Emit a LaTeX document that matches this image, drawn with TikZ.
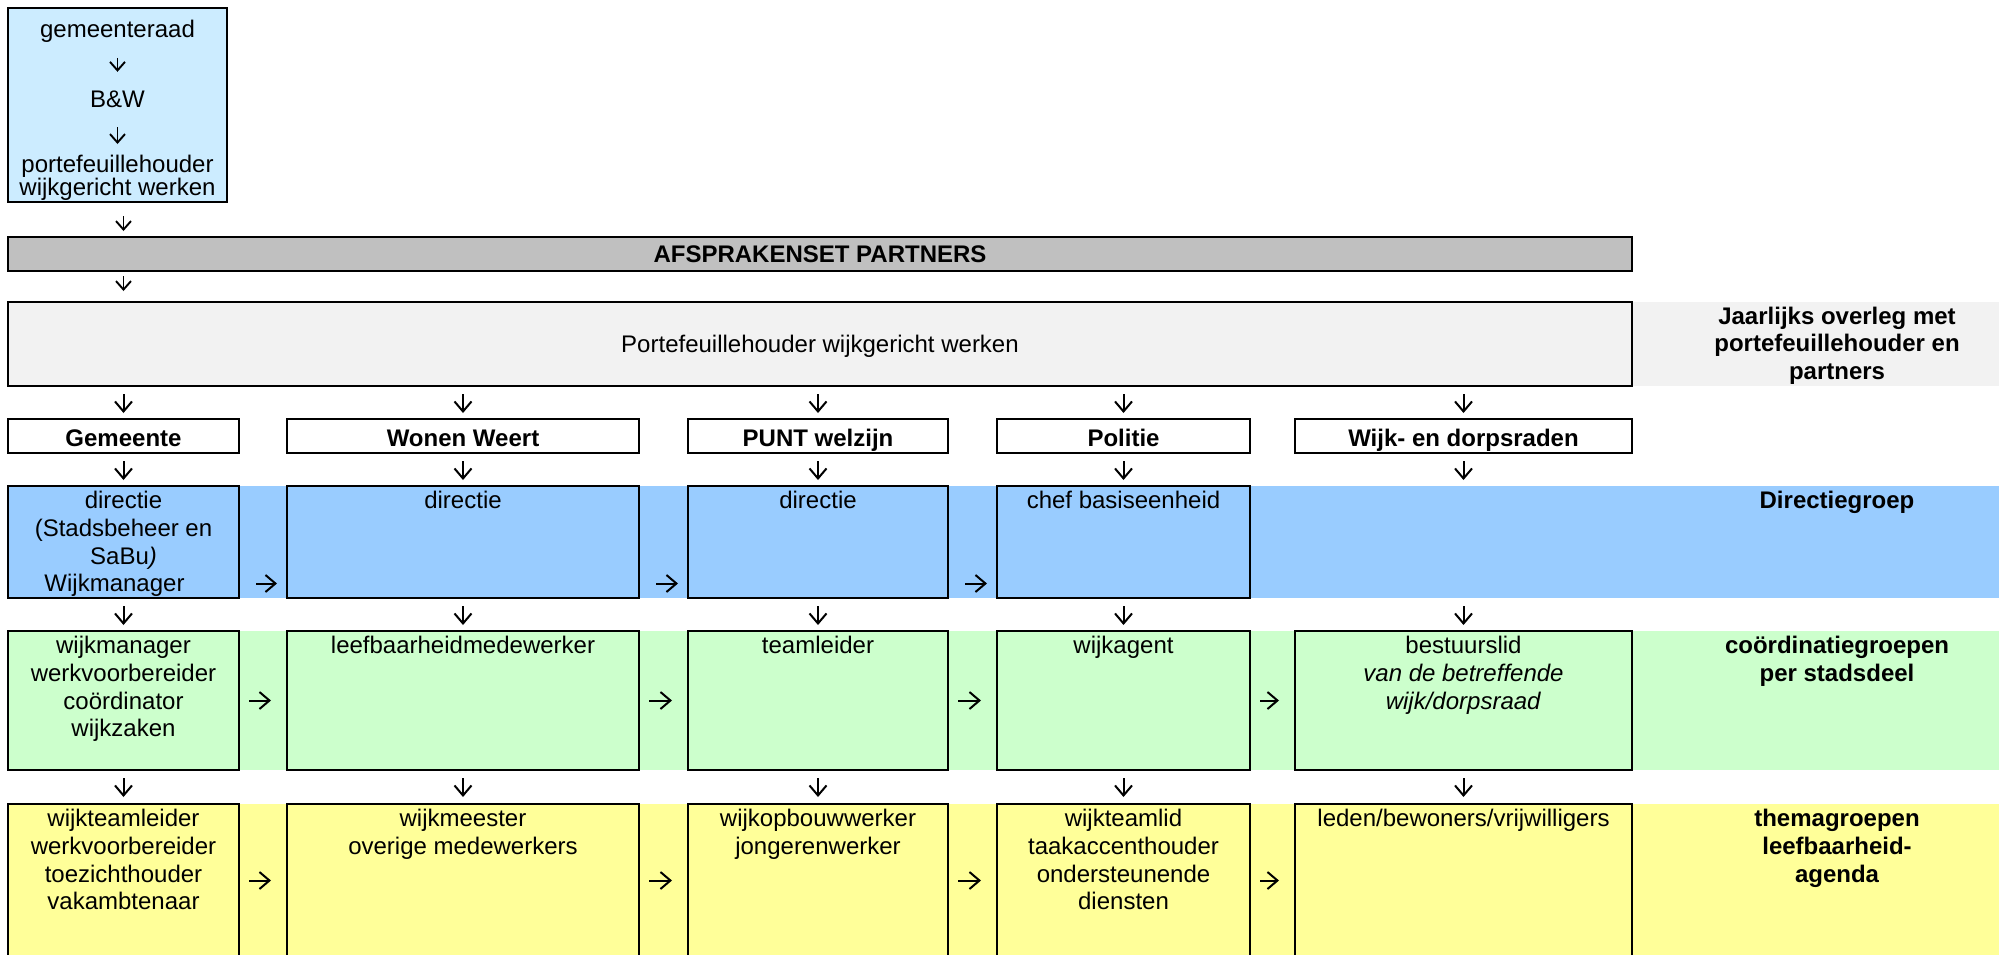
\documentclass[tikz,border=0pt]{standalone}
\usepackage{fontspec}
\setmainfont{Liberation Sans}
\usetikzlibrary{arrows.meta}
\definecolor{topblue}{HTML}{CCECFF}
\definecolor{afsgray}{HTML}{C0C0C0}
\definecolor{pfgray}{HTML}{F2F2F2}
\definecolor{blueband}{HTML}{99CCFF}
\definecolor{greenband}{HTML}{CCFFCC}
\definecolor{yellowband}{HTML}{FFFF99}
\newcommand\tstrut{\rule{0pt}{18pt}}
\newcommand\fsz{\fontsize{24}{27.7}\selectfont}
\begin{document}
\begin{tikzpicture}[x=1pt,y=-1pt,
  box/.style={draw=black, line width=1.6pt, rectangle, inner sep=0pt, outer sep=0pt, anchor=north west},
  ghost/.style={rectangle, inner sep=0pt, outer sep=0pt, anchor=north west},
  txt/.style={font=\fsz, align=center, inner sep=0pt, anchor=north},
  lab/.style={font=\fsz\bfseries, align=center, inner sep=0pt, anchor=north},
  hdr/.style={box, fill=white, minimum height=34pt, font=\fsz\bfseries, text height=20pt, text depth=0pt},
  arr/.style={-{Straight Barb[length=10pt,width=17pt]}, line width=2pt},
  sarr/.style={-{Straight Barb[length=8.5pt,width=15pt]}, line width=1.9pt}]
\useasboundingbox (0,0) rectangle (1999,954);
\clip (0,0) rectangle (1999,954);
\fill[white] (0,0) rectangle (1999,954);

% background bands
\fill[pfgray] (1632,302) rectangle (1999,386);
\fill[blueband] (8,486) rectangle (1999,598);
\fill[greenband] (8,631) rectangle (1999,770);
\fill[yellowband] (8,804) rectangle (1999,960);

% top box
\node[box, fill=topblue, minimum width=219pt, minimum height=194pt] (top) at (8,8) {};
\node[font=\fsz, inner sep=0pt, text height=18pt, text depth=6pt, anchor=base] (t1) at (117.5,37.7) {gemeenteraad};
\node[font=\fsz, inner sep=0pt, text height=18pt, text depth=6pt, anchor=base] (t2) at (117.5,107) {B\&W};
\node[txt, font=\fontsize{24}{23}\selectfont] (t3) at (117.5,154) {\tstrut portefeuillehouder\\wijkgericht werken};

% wide boxes
\node[box, fill=afsgray, minimum width=1624pt, minimum height=34pt, font=\fsz\bfseries, text height=17.2pt, text depth=0pt] (afs) at (8,237) {AFSPRAKENSET PARTNERS};
\node[box, fill=pfgray, minimum width=1624pt, minimum height=84pt, font=\fsz, text height=17.4pt, text depth=0pt] (pf) at (8,302) {Portefeuillehouder wijkgericht werken};
\node[lab] (labA) at (1837,306) {\tstrut Jaarlijks overleg met\\portefeuillehouder en\\partners};

% headers
\node[hdr, minimum width=231pt] (h1) at (8,419) {Gemeente};
\node[hdr, minimum width=352pt] (h2) at (287,419) {Wonen Weert};
\node[hdr, minimum width=260pt] (h3) at (688,419) {PUNT welzijn};
\node[hdr, minimum width=253pt] (h4) at (997,419) {Politie};
\node[hdr, minimum width=337pt] (h5) at (1295,419) {Wijk- en dorpsraden};

% directie row
\node[box, fill=blueband, minimum width=231pt, minimum height=112pt] (b1) at (8,486) {};
\node[box, fill=blueband, minimum width=352pt, minimum height=112pt] (b2) at (287,486) {};
\node[box, fill=blueband, minimum width=260pt, minimum height=112pt] (b3) at (688,486) {};
\node[box, fill=blueband, minimum width=253pt, minimum height=112pt] (b4) at (997,486) {};
\node[ghost, minimum width=337pt, minimum height=112pt] (b5) at (1295,486) {};
\node[txt] (b1t) at ([yshift=-4.5pt]b1.north) {\tstrut directie\\(Stadsbeheer en\\SaBu\textit{)}\\Wijkmanager\hspace*{18pt}};
\node[txt] (b2t) at ([yshift=-4.5pt]b2.north) {\tstrut directie};
\node[txt] (b3t) at ([yshift=-4.5pt]b3.north) {\tstrut directie};
\node[txt] (b4t) at ([yshift=-4.5pt]b4.north) {\tstrut chef basiseenheid};
\node[lab] (labB) at (1837,490.5) {\tstrut Directiegroep};

% coordinatie row
\node[box, fill=greenband, minimum width=231pt, minimum height=139pt] (g1) at (8,631) {};
\node[box, fill=greenband, minimum width=352pt, minimum height=139pt] (g2) at (287,631) {};
\node[box, fill=greenband, minimum width=260pt, minimum height=139pt] (g3) at (688,631) {};
\node[box, fill=greenband, minimum width=253pt, minimum height=139pt] (g4) at (997,631) {};
\node[box, fill=greenband, minimum width=337pt, minimum height=139pt] (g5) at (1295,631) {};
\node[txt] (g1t) at ([yshift=-4.5pt]g1.north) {\tstrut wijkmanager\\werkvoorbereider\\coördinator\\wijkzaken};
\node[txt] (g2t) at ([yshift=-4.5pt]g2.north) {\tstrut leefbaarheidmedewerker};
\node[txt] (g3t) at ([yshift=-4.5pt]g3.north) {\tstrut teamleider};
\node[txt] (g4t) at ([yshift=-4.5pt]g4.north) {\tstrut wijkagent};
\node[txt] (g5t) at ([yshift=-4.5pt]g5.north) {\tstrut bestuurslid\\\textit{van de betreffende}\\\textit{wijk/dorpsraad}};
\node[lab] (labC) at (1837,635.5) {\tstrut coördinatiegroepen\\per stadsdeel};

% thema row
\node[box, fill=yellowband, minimum width=231pt, minimum height=153pt] (y1) at (8,804) {};
\node[box, fill=yellowband, minimum width=352pt, minimum height=153pt] (y2) at (287,804) {};
\node[box, fill=yellowband, minimum width=260pt, minimum height=153pt] (y3) at (688,804) {};
\node[box, fill=yellowband, minimum width=253pt, minimum height=153pt] (y4) at (997,804) {};
\node[box, fill=yellowband, minimum width=337pt, minimum height=153pt] (y5) at (1295,804) {};
\node[txt] (y1t) at ([yshift=-4.5pt]y1.north) {\tstrut wijkteamleider\\werkvoorbereider\\toezichthouder\\vakambtenaar};
\node[txt] (y2t) at ([yshift=-4.5pt]y2.north) {\tstrut wijkmeester\\overige medewerkers};
\node[txt] (y3t) at ([yshift=-4.5pt]y3.north) {\tstrut wijkopbouwwerker\\jongerenwerker};
\node[txt] (y4t) at ([yshift=-4.5pt]y4.north) {\tstrut wijkteamlid\\taakaccenthouder\\ondersteunende\\diensten};
\node[txt] (y5t) at ([yshift=-4.5pt]y5.north) {\tstrut leden/bewoners/vrijwilligers};
\node[lab] (labD) at (1837,808.5) {\tstrut themagroepen\\leefbaarheid-\\agenda};

% arrows in and below the top box
\draw[sarr, shorten <=14pt, shorten >=17pt] (t1) -- (t2);
\draw[sarr, shorten <=14pt, shorten >=10pt] (t2) -- (t3);
\draw[sarr, shorten <=14pt, shorten >=6pt] (top.south -| h1.north) -- (afs.north -| h1.north);
\draw[sarr, shorten <=5pt, shorten >=11pt] (afs.south -| h1.north) -- (pf.north -| h1.north);

% vertical arrows per column
\foreach \i in {1,...,5}{
  \draw[arr, shorten <=8pt, shorten >=6pt] (pf.south -| h\i.north) -- (h\i.north);
  \draw[arr, shorten <=8pt, shorten >=6pt] (h\i.south) -- (b\i.north);
  \draw[arr, shorten <=8pt, shorten >=6pt] (b\i.south) -- (g\i.north);
  \draw[arr, shorten <=8pt, shorten >=7pt] (g\i.south) -- (y\i.north);
}

% horizontal arrows
\foreach \a/\b in {1/2,2/3,3/4}{
  \draw[arr, shorten <=17pt, shorten >=10pt] ([yshift=14.5pt]b\a.south east) -- ([yshift=14.5pt]b\b.south west);
}
\foreach \a/\b in {1/2,2/3,3/4,4/5}{
  \draw[arr, shorten <=10pt, shorten >=16pt] (g\a) -- (g\b);
  \draw[arr, shorten <=10pt, shorten >=16pt] (y\a) -- (y\b);
}
\end{tikzpicture}
\end{document}
